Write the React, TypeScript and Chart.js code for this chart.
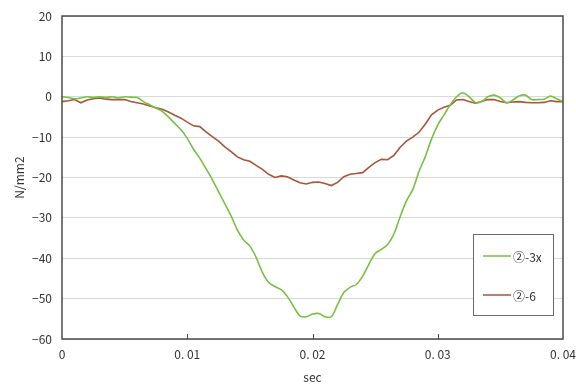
import React, { useEffect, useRef } from "react";
import { Chart, registerables } from "chart.js";

Chart.register(...registerables);

const times = [
  0, 0.0005, 0.001, 0.0015, 0.002, 0.0025, 0.003, 0.0035, 0.004, 0.0045,
  0.005, 0.0055, 0.006, 0.0065, 0.007, 0.0075, 0.008, 0.0085, 0.009, 0.0095,
  0.01, 0.0105, 0.011, 0.0115, 0.012, 0.0125, 0.013, 0.0135, 0.014, 0.0145,
  0.015, 0.0155, 0.016, 0.0165, 0.017, 0.0175, 0.018, 0.0185, 0.019, 0.0195,
  0.02, 0.0205, 0.021, 0.0215, 0.022, 0.0225, 0.023, 0.0235, 0.024, 0.0245,
  0.025, 0.0255, 0.026, 0.0265, 0.027, 0.0275, 0.028, 0.0285, 0.029, 0.0295,
  0.03, 0.0305, 0.031, 0.0315, 0.032, 0.0325, 0.033, 0.0335, 0.034, 0.0345,
  0.035, 0.0355, 0.036, 0.0365, 0.037, 0.0375, 0.038, 0.0385, 0.039, 0.0395,
  0.04,
];

const series3x = [
  0, -0.2, -0.5, -0.3, 0, -0.2, 0, -0.2, 0, -0.3,
  0, -0.1, -0.2, -1.2, -2, -2.8, -3.6, -5, -6.6, -8.2,
  -10.3, -13, -15.2, -17.8, -20.5, -23.5, -26.5, -29.5, -33, -35.5,
  -37, -39.8, -43.5, -46, -47, -47.8, -49.5, -52, -54.3, -54.5,
  -53.8, -53.7, -54.5, -54.5, -51.5, -48.5, -47.2, -46.5, -44.5, -41.5,
  -38.8, -37.8, -36.6, -34, -29.7, -25.8, -23, -18.5, -14.9, -10.5,
  -7, -4.5, -2, 0, 1, 0, -1.4, -1.2, 0, 0.4,
  -0.3, -1.5, -0.8, 0.2, 0.4, -0.7, -0.7, -0.6, 0.2, -0.5,
  -1.2,
];

const series6 = [
  -1.2, -1.0, -0.7, -1.5, -0.8, -0.5, -0.3, -0.6, -0.7, -0.7,
  -0.7, -1.2, -1.5, -1.8, -2.3, -2.7, -3.1, -3.8, -4.6, -5.3,
  -6.3, -7.2, -7.4, -8.7, -9.9, -11, -12.4, -13.6, -14.9, -15.6,
  -16, -17, -18, -19.2, -20, -19.6, -19.8, -20.6, -21.3, -21.6,
  -21.2, -21.1, -21.5, -22, -21.2, -19.8, -19.2, -19.0, -18.8, -17.5,
  -16.3, -15.5, -15.6, -14.5, -12.5, -11, -10, -8.8, -6.8, -4.5,
  -3.3, -2.6, -2.1, -0.8, -0.7, -1.2, -1.6, -1.2, -0.7, -0.7,
  -1.2, -1.5, -1.3, -1.2, -1.4, -1.5, -1.5, -1.4, -1.0, -1.2,
  -1.2,
];

const seriesNames = ["②-3x", "②-6"];
const seriesColors = ["#76c144", "#a9553a"];
const xTickValues = [0.01, 0.02, 0.03];
const yLabel = "N/mm2";
const xLabel = "sec";

const FONT = "'Noto Sans CJK JP', 'Noto Sans', sans-serif";

const framePlugin = {
  id: "frameAndLegend",
  afterDatasetsDraw(chart: any) {
    const { ctx, chartArea } = chart;
    const { left, right, top, bottom } = chartArea;
    ctx.save();
    ctx.strokeStyle = "#4a4a4a";
    ctx.lineWidth = 1.5;
    ctx.strokeRect(left, top, right - left, bottom - top);
    ctx.lineWidth = 1;
    ctx.strokeStyle = "#4a4a4a";
    for (const v of xTickValues) {
      const px = Math.round(chart.scales.x.getPixelForValue(v)) + 0.5;
      ctx.beginPath();
      ctx.moveTo(px, bottom);
      ctx.lineTo(px, bottom - 5);
      ctx.stroke();
    }
    const bx = right - 90;
    const by = bottom - 105;
    const bw = 80;
    const bh = 81;
    ctx.fillStyle = "#ffffff";
    ctx.fillRect(bx, by, bw, bh);
    ctx.strokeStyle = "#6a6a6a";
    ctx.lineWidth = 1;
    ctx.strokeRect(bx + 0.5, by + 0.5, bw, bh);
    const rows = [by + 22, by + 61];
    ctx.font = `12px ${FONT}`;
    ctx.textBaseline = "middle";
    ctx.textAlign = "left";
    seriesNames.forEach((name, i) => {
      ctx.strokeStyle = seriesColors[i];
      ctx.lineWidth = 1.5;
      ctx.beginPath();
      ctx.moveTo(bx + 10, rows[i]);
      ctx.lineTo(bx + 38, rows[i]);
      ctx.stroke();
      ctx.fillStyle = "#333333";
      ctx.fillText(name, bx + 40, rows[i] + 1);
    });
    ctx.restore();
  },
};

export default function App() {
  const canvasRef = useRef<HTMLCanvasElement | null>(null);

  useEffect(() => {
    document.body.style.margin = "0";
    const canvas = canvasRef.current;
    if (!canvas) return;
    const chart = new Chart(canvas, {
      type: "line",
      data: {
        datasets: [
          {
            label: seriesNames[0],
            data: times.map((t, i) => ({ x: t, y: series3x[i] })),
            borderColor: seriesColors[0],
            borderWidth: 1.6,
            pointRadius: 0,
            tension: 0.3,
          },
          {
            label: seriesNames[1],
            data: times.map((t, i) => ({ x: t, y: series6[i] })),
            borderColor: seriesColors[1],
            borderWidth: 1.6,
            pointRadius: 0,
            tension: 0,
          },
        ],
      },
      options: {
        animation: false,
        responsive: false,
        maintainAspectRatio: false,
        layout: { padding: { top: 16, right: 13, left: 0, bottom: 0 } },
        plugins: {
          legend: { display: false },
          tooltip: { enabled: false },
        },
        scales: {
          x: {
            type: "linear",
            min: 0,
            max: 0.04,
            ticks: {
              stepSize: 0.01,
              color: "#333333",
              font: { size: 12, family: FONT },
              padding: 8,
              maxRotation: 0,
              callback: (v: any) => (Number(v) === 0 ? "0" : Number(v).toFixed(2).replace(".", ". ")),
            },
            grid: { display: false, drawTicks: false },
            border: { display: false },
            title: {
              display: true,
              text: xLabel,
              color: "#333333",
              font: { size: 12, family: FONT },
              padding: { top: 2, bottom: 0 },
            },
            afterFit: (scale: any) => {
              scale.height = 46;
              scale.paddingRight = 0;
              scale.paddingLeft = 0;
            },
          },
          y: {
            min: -60,
            max: 20,
            ticks: {
              stepSize: 10,
              color: "#333333",
              font: { size: 12, family: FONT },
              padding: 10,
              callback: (v: any) => (Number(v) < 0 ? "−" + Math.abs(Number(v)) : String(v)),
            },
            grid: { color: "#d9d9d9", lineWidth: 1, drawTicks: false },
            border: { display: false },
            title: {
              display: true,
              text: yLabel,
              color: "#333333",
              font: { size: 12, family: FONT },
              padding: { top: 12, bottom: 0 },
            },
            afterFit: (scale: any) => {
              scale.width = 62;
              scale.paddingTop = 0;
              scale.paddingBottom = 0;
            },
          },
        },
      },
      plugins: [framePlugin],
    });
    return () => chart.destroy();
  }, []);

  return (
    <div style={{ width: 576, height: 385, position: "relative", background: "#fff" }}>
      <canvas ref={canvasRef} width={576} height={385} style={{ width: 576, height: 385 }} />
    </div>
  );
}
